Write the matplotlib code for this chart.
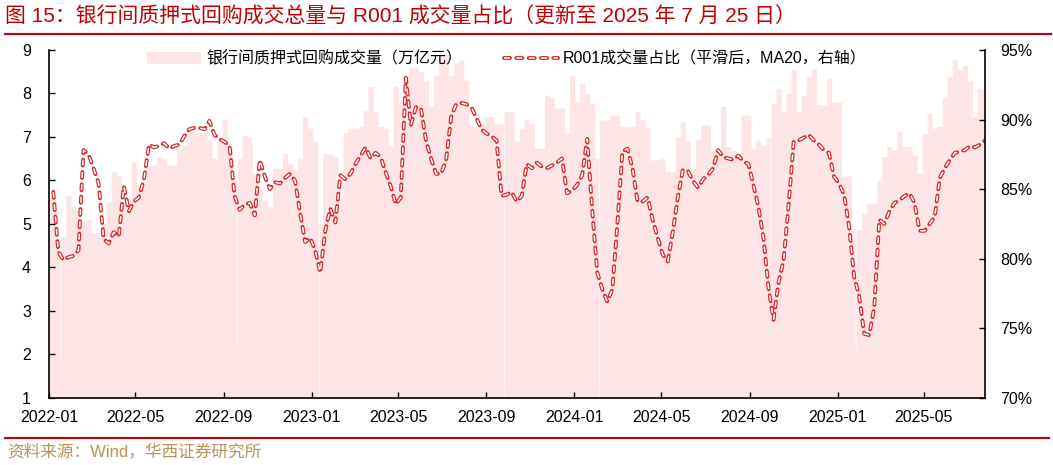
import numpy as np
import pandas as pd
import matplotlib
matplotlib.use('Agg')
import matplotlib.pyplot as plt
import matplotlib.dates as mdates
import matplotlib.patheffects as pe
from matplotlib.lines import Line2D
from matplotlib.ticker import FuncFormatter

plt.rcParams['font.family'] = ['Liberation Sans', 'Noto Sans CJK SC']
plt.rcParams['lines.scale_dashes'] = False

# weekly readings (Fridays)
weeks = pd.date_range('2022-01-07', '2025-07-25', freq='W-FRI')

# 银行间质押式回购成交量（万亿元）
vol = [5.6, 4.6, 4.7, 5.66, 5.4, 5.3, 5.05, 5.1, 4.8, 4.8,
       5.0, 5.5, 6.2, 6.1, 5.5, 5.6, 6.43, 5.9, 5.95, 6.35,
       6.35, 6.55, 6.5, 6.35, 6.35, 6.74, 6.8, 7.12, 7.12, 7.1,
       7.1, 6.93, 6.5, 7.0, 7.39, 6.78, 6.0, 6.5, 7.04, 7.0,
       6.16, 5.8, 5.55, 5.4, 6.28, 6.28, 6.62, 6.4, 6.24, 6.5,
       7.47, 7.2, 6.9, 5.0, 6.62, 6.6, 6.55, 5.6, 7.1, 7.2,
       7.2, 7.24, 7.6, 8.16, 7.58, 7.24, 7.2, 6.78, 8.16, 7.8,
       8.39, 8.6, 8.6, 8.5, 8.3, 7.7, 8.42, 8.9, 8.9, 8.4,
       8.7, 8.77, 8.3, 7.24, 7.24, 7.3, 7.47, 7.47, 7.3, 7.3,
       7.58, 7.58, 6.9, 7.2, 7.39, 7.3, 6.74, 6.74, 7.96, 7.9,
       7.66, 7.66, 7.08, 8.42, 7.8, 8.23, 8.0, 7.77, 6.5, 7.39,
       7.39, 7.5, 7.5, 7.24, 7.24, 7.24, 7.58, 7.4, 7.2, 6.47,
       6.47, 6.5, 6.2, 6.2, 7.0, 7.35, 6.9, 6.28, 6.93, 7.27,
       7.27, 6.7, 6.7, 7.7, 6.78, 6.7, 6.62, 7.5, 7.5, 6.74,
       6.93, 6.8, 7.0, 7.77, 8.12, 7.6, 8.0, 8.54, 7.58, 7.96,
       8.39, 8.58, 7.74, 7.73, 8.35, 7.8, 7.8, 6.1, 6.1, 4.9,
       4.86, 5.24, 5.47, 5.47, 6.0, 6.55, 6.78, 6.7, 7.12, 6.78,
       6.78, 6.58, 6.16, 7.08, 7.54, 7.2, 7.24, 7.89, 8.39, 8.77,
       8.54, 8.65, 8.3, 7.47, 8.12, 8.1]

# single low days (white gaps in the area)
spike_dates = ['2022-01-17', '2022-09-19', '2023-01-11', '2023-09-25',
               '2024-02-04', '2024-09-29', '2025-01-26']
spike_vals = [1.8, 2.3, 1.0, 1.0, 1.0, 4.3, 2.1]

# R001成交量占比（MA20，%）
ratio = [84.8, 80.5, 79.9, 80.1, 80.2, 80.6, 87.8, 87.5, 86.5, 85.4,
         81.4, 81.1, 81.9, 81.6, 85.2, 83.4, 84.1, 84.4, 85.7, 88.2,
         88.0, 88.1, 88.3, 87.9, 88.1, 88.2, 88.8, 89.3, 89.4, 89.4,
         89.3, 89.9, 88.9, 88.6, 88.4, 88.1, 84.5, 83.5, 83.9, 84.0,
         83.1, 87.1, 85.9, 85.0, 85.5, 85.4, 85.8, 86.1, 85.6, 83.3,
         81.2, 81.5, 80.6, 79.0, 82.0, 83.6, 82.6, 86.0, 85.7, 86.1,
         86.8, 87.4, 88.0, 87.2, 87.6, 87.3, 86.2, 85.2, 83.9, 84.4,
         93.0, 89.6, 90.9, 90.8, 88.5, 87.2, 86.1, 86.1, 87.1, 90.2,
         91.1, 91.2, 91.1, 90.9, 90.1, 89.3, 89.0, 88.8, 88.5, 84.5,
         84.6, 84.8, 84.1, 84.5, 86.8, 86.5, 86.9, 86.6, 86.5, 86.7,
         86.9, 87.2, 84.7, 84.9, 85.3, 86.0, 88.6, 83.5, 79.0, 77.8,
         76.9, 77.8, 82.5, 87.7, 87.9, 86.5, 84.1, 84.1, 84.4, 82.8,
         81.5, 80.3, 79.8, 81.9, 84.4, 86.4, 86.3, 85.6, 85.1, 85.7,
         86.0, 86.5, 87.8, 87.3, 87.2, 87.1, 87.4, 87.0, 86.8, 85.3,
         83.7, 81.5, 77.9, 75.6, 78.3, 79.9, 83.9, 88.4, 88.5, 88.7,
         88.9, 88.5, 88.2, 87.8, 87.6, 85.9, 85.4, 84.6, 82.3, 78.7,
         77.3, 74.6, 74.5, 76.5, 82.8, 82.5, 83.4, 84.0, 84.2, 84.5,
         84.7, 84.0, 82.0, 82.0, 82.5, 83.0, 85.8, 86.5, 87.1, 87.6,
         87.7, 87.8, 88.1, 88.0, 88.2, 88.5]

pink = '#fde5e5'
red = '#d7262b'
dark_red = '#c00000'

# step representation of the weekly area plus the single low days
days = pd.date_range('2022-01-01', '2025-07-25')
daily = pd.Series(vol, index=weeks).reindex(days, method='nearest')
for d, v in zip(spike_dates, spike_vals):
    daily[pd.Timestamp(d)] = v

fig = plt.figure(figsize=(10.53, 4.65), dpi=100)
ax = fig.add_axes([0.0465, 0.1447, 0.889, 0.7478])
fill = ax.fill_between(daily.index, daily.values, 0, step='mid', color=pink, lw=0,
                       label='银行间质押式回购成交量（万亿元）')
ax.set_ylim(1, 9)
ax.set_yticks(range(1, 10))
ax.set_xlim(pd.Timestamp('2022-01-01'), pd.Timestamp('2025-07-25'))
ax.xaxis.set_major_locator(mdates.MonthLocator(bymonth=[1, 5, 9]))
ax.xaxis.set_major_formatter(mdates.DateFormatter('%Y-%m'))

ax2 = ax.twinx()
line, = ax2.plot(weeks, ratio, color='white', lw=1.1, ls=(0, (4.3, 4.6)),
                 dash_capstyle='butt',
                 path_effects=[pe.Stroke(linewidth=2.8, foreground=red, capstyle='round'),
                               pe.Normal()],
                 label='R001成交量占比（平滑后，MA20，右轴）')
ax2.set_ylim(70, 95)
ax2.set_yticks(range(70, 96, 5))
ax2.yaxis.set_major_formatter(FuncFormatter(lambda v, _: f'{v:.0f}%'))

for a in (ax, ax2):
    a.spines['top'].set_visible(False)
    for s in a.spines.values():
        s.set_linewidth(1.2)
ax.spines['right'].set_visible(False)
ax2.spines['left'].set_visible(False)
ax2.spines['bottom'].set_visible(False)

ax.tick_params(axis='y', direction='in', length=4, width=1, pad=13, labelsize=11.5)
ax.tick_params(axis='x', direction='in', length=4, width=1, pad=9, labelsize=11.5)
ax2.tick_params(axis='y', direction='in', length=4, width=1, pad=11, labelsize=11.5)

ax2.legend(handles=[fill, line], loc='center', bbox_to_anchor=(0.489, 0.975), ncol=2,
           frameon=False, fontsize=11.5, handlelength=3.4, handletextpad=0.3,
           columnspacing=2.6)

fig.text(0.005, 0.965, '图 15：银行间质押式回购成交总量与 R001 成交量占比（更新至 2025 年 7 月 25 日）',
         color=dark_red, fontsize=15, va='center')
fig.add_artist(Line2D([0.005, 0.998], [1 - 34 / 465] * 2, color=dark_red, lw=1.5,
                      transform=fig.transFigure))
fig.add_artist(Line2D([0.005, 0.996], [1 - 438 / 465] * 2, color=dark_red, lw=1.5,
                      transform=fig.transFigure))
fig.text(0.007, 0.03, '资料来源：Wind，华西证券研究所', color='#b8925a', fontsize=12,
         va='center')

fig.savefig('out.png', dpi=100)
